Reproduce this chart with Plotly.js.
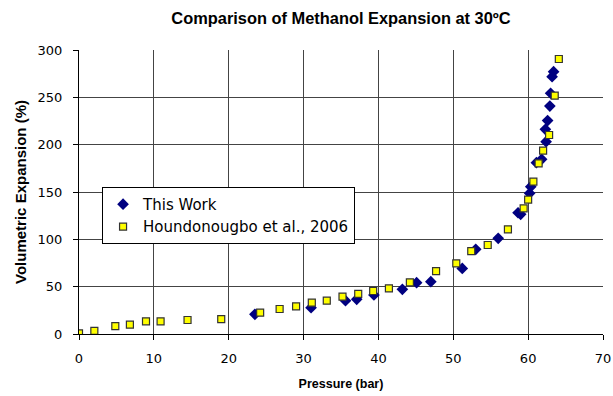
<!DOCTYPE html>
<html><head><meta charset="utf-8">
<script src="https://cdn.plot.ly/plotly-3.0.1.min.js"></script>
<style>html,body{margin:0;padding:0;background:#fff}#chart{width:613px;height:396px}</style>
</head><body><div id="chart"></div>
<script>
const thisWorkP = [23.5,31.0,35.6,37.1,39.4,43.2,45.1,47.0,51.2,53.0,56.0,58.65,59.0,60.2,60.35,61.1,61.8,62.4,62.3,62.6,62.9,63.0,63.2,63.4];
const thisWorkE = [20.8,27.8,35.2,36.6,41.2,47.2,54.2,55.3,69.3,89.4,101.1,128.1,126.4,148.6,155.6,181.0,184.5,203.2,216.2,225.4,240.8,254.3,271.8,277.1];
const houndP = [0,2.05,4.85,6.8,8.95,10.9,14.5,19.0,24.2,26.8,29.0,31.1,33.1,35.2,37.3,39.3,41.4,44.2,47.7,50.4,52.4,54.6,57.3,59.4,60.0,60.7,61.4,62.0,62.8,63.55,64.1];
const houndE = [0.7,3.2,8.4,9.8,13.4,13.4,14.8,15.8,22.5,26.4,29.2,33.1,35.2,39.4,42.3,45.4,48.2,54.6,66.5,74.6,87.6,94.0,110.6,132.7,142.0,161.0,180.3,193.7,210.2,251.8,290.5];
const xTicks = [0,10,20,30,40,50,60,70];
const yTicks = [0,50,100,150,200,250,300];

const traces = [
  {x: thisWorkP, y: thisWorkE, mode:'markers', type:'scatter', name:'This Work',
   marker:{symbol:'diamond', size:9, color:'#000080', line:{width:0}}},
  {x: houndP, y: houndE, mode:'markers', type:'scatter', name:'Houndonougbo et al., 2006',
   marker:{symbol:'square', size:7, color:'#FFFF00', line:{width:1.2, color:'#333'}}}
];
const wide = 'DejaVu Sans, Verdana, sans-serif';
const arial = 'Liberation Sans, Arial, sans-serif';
const layout = {
  width:613, height:396,
  margin:{l:79, r:10, t:50, b:62},
  paper_bgcolor:'#fff', plot_bgcolor:'#fff',
  font:{family:wide, size:13, color:'#000'},
  title:{text:'<b>Comparison of Methanol Expansion at 30ºC</b>', font:{family:arial, size:16.4, color:'#000'}, x:0.5, xanchor:'center', xref:'paper', y:0.955, yanchor:'middle'},
  showlegend:true,
  legend:{x:0.044, y:0.518, xanchor:'left', yanchor:'top', bordercolor:'#000', borderwidth:1, bgcolor:'#fff',
          font:{family:wide, size:15, color:'#000'}, itemwidth:30, tracegroupgap:0},
  xaxis:{range:[0,70], tickvals:xTicks, ticktext:xTicks.map(String), showgrid:true, gridcolor:'#444', gridwidth:1,
         zeroline:false, showline:true, linecolor:'#000', linewidth:1, ticks:'outside', ticklen:5, tickcolor:'#000',
         ticklabelstandoff:7, automargin:false,
         title:{text:'<b>Pressure (bar)</b>', font:{family:arial, size:12.5, color:'#000'}, standoff:14},
         tickfont:{family:wide, size:13, color:'#000'}},
  yaxis:{range:[0,300], tickvals:yTicks, ticktext:yTicks.map(String), showgrid:true, gridcolor:'#444', gridwidth:1,
         zeroline:false, showline:true, linecolor:'#000', linewidth:1, ticks:'outside', ticklen:5, tickcolor:'#000',
         ticklabelstandoff:8, automargin:false,
         title:{text:'<b>Volumetric Expansion (%)</b>', font:{family:arial, size:15, color:'#000'}, standoff:7},
         tickfont:{family:wide, size:13, color:'#000'}}
};
Plotly.newPlot('chart', traces, layout, {displayModeBar:false, staticPlot:true});
</script></body></html>
